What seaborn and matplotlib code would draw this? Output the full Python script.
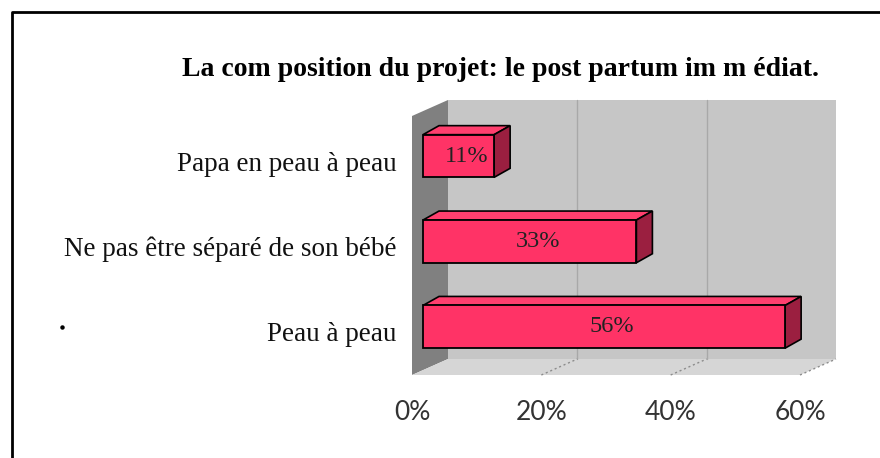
import numpy as np
import pandas as pd
import seaborn as sns
import matplotlib.pyplot as plt
from matplotlib.patches import Polygon
from matplotlib.lines import Line2D
from matplotlib.transforms import ScaledTranslation, IdentityTransform

# data
categories = ['Papa en peau à peau', 'Ne pas être séparé de son bébé', 'Peau à peau']
values = [11, 33, 56]
value_labels = ['11%', '33%', '56%']
ticks = [0, 20, 40, 60]
tick_labels = ['0%', '20%', '40%', '60%']
title = 'La com position du projet: le post partum im m édiat.'

FRONT = '#FF3366'
SIDE = '#9B1F40'
TOP = '#FF3F6E'

sns.set_theme(style='white')
plt.rcParams['font.family'] = ['Liberation Serif', 'DejaVu Serif']

W, H = 880, 458
fig = plt.figure(figsize=(W / 100, H / 100), dpi=100)
# front plane of the 3d box (pixels): x 412..800, y 116..375
ax = fig.add_axes([412 / W, 1 - 375 / H, 388 / W, 259 / H])

df = pd.DataFrame({'cat': categories, 'val': values})
sns.barplot(data=df, x='val', y='cat', orient='h', color=FRONT, saturation=1,
            edgecolor='black', linewidth=1.3, width=0.5, ax=ax, zorder=5)
bars = list(ax.patches)

ax.set_xlim(0, 60)
ax.set_ylim(2.506, -0.527)
ax.set_facecolor('none')
for s in ax.spines.values():
    s.set_visible(False)
ax.set_xlabel('')
ax.set_ylabel('')

# walls and floor (depth vector in axes fraction)
dx, dy = 36 / 388, 16 / 259
walls = [
    ([(dx, dy), (1 + dx, dy), (1 + dx, 1 + dy), (dx, 1 + dy)], '#C6C6C6'),
    ([(0, 0), (0, 1), (dx, 1 + dy), (dx, dy)], '#808080'),
    ([(0, 0), (1, 0), (1 + dx, dy), (dx, dy)], '#D6D6D6'),
]
for pts, col in walls:
    ax.add_artist(Polygon(pts, closed=True, facecolor=col, edgecolor='none',
                          transform=ax.transAxes, clip_on=False, zorder=0.5))
for t in ticks[1:]:
    f = t / 60
    if t < 60:
        ax.add_artist(Line2D([f + dx, f + dx], [dy, 1 + dy], color='#A8A8A8', lw=1,
                             transform=ax.transAxes, clip_on=False, zorder=0.6))
    ax.add_artist(Line2D([f, f + dx], [0, dy], color='#8C8C8C', lw=1, ls=(0, (1.5, 2)),
                         transform=ax.transAxes, clip_on=False, zorder=0.6))

# 3d bars: shift front faces, then add top and side faces
fx, fy = 11, 5
bx, by = fx + 16, fy + 9
shift = ScaledTranslation(fx / 100, fy / 100, fig.dpi_scale_trans)
for p in bars:
    x0, y0, w, h = p.get_x(), p.get_y(), p.get_width(), p.get_height()
    (xl, yt), (xr, yb) = ax.transData.transform([(x0, y0), (x0 + w, y0 + h)])
    top = [(xl + fx, yt + fy), (xr + fx, yt + fy), (xr + bx, yt + by), (xl + bx, yt + by)]
    side = [(xr + fx, yt + fy), (xr + fx, yb + fy), (xr + bx, yb + by), (xr + bx, yt + by)]
    for pts, col in [(top, TOP), (side, SIDE)]:
        ax.add_artist(Polygon(pts, closed=True, facecolor=col, edgecolor='black', lw=1.2,
                              transform=IdentityTransform(), clip_on=False, zorder=4))
    p.set_transform(ax.transData + shift)
    p.set_clip_on(False)

lab_shift = ScaledTranslation((fx + 8) / 100, fy / 100, fig.dpi_scale_trans)
for i, (v, lab) in enumerate(zip(values, value_labels)):
    ax.text(v / 2, i, lab, ha='center', va='center', fontsize=17.5, color='#222222',
            transform=ax.transData + lab_shift, zorder=6)

ax.set_xticks(ticks, tick_labels)
ax.tick_params(axis='x', length=0, pad=18, labelsize=19, labelcolor='#333333')
for lbl in ax.get_xticklabels():
    lbl.set_fontfamily(['Lato', 'DejaVu Sans'])
ax.tick_params(axis='y', length=0, pad=11, labelsize=19.5, labelcolor='#111111')

fig.text(500 / W, 1 - 70 / H, title, ha='center', va='center', fontsize=20,
         fontweight='bold', color='black')

# outer frame (left and top edges) and a stray dot
fig.add_artist(Line2D([12 / W, 12 / W, 1], [0, 1 - 12 / H, 1 - 12 / H], color='black',
                      lw=2, transform=fig.transFigure))
fig.add_artist(Line2D([62 / W], [1 - 327 / H], marker='o', ms=2.2, color='black',
                      transform=fig.transFigure))

fig.savefig('out.png', dpi=100)
